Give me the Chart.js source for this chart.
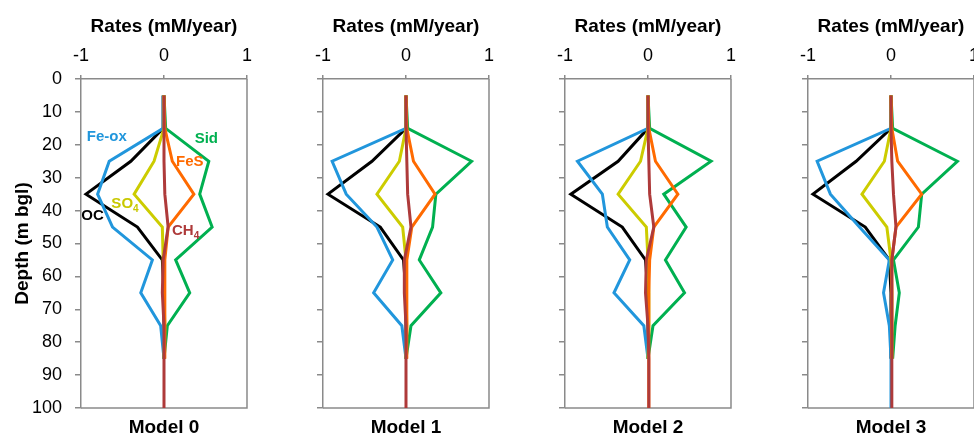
<!DOCTYPE html>
<html>
<head>
<meta charset="utf-8">
<script src="https://cdn.jsdelivr.net/npm/chart.js@4"></script>
<style>
  html, body { margin: 0; padding: 0; background: #fff; overflow: hidden; width: 974px; height: 436px; }
  .panel { position: absolute; top: 0; }
</style>
</head>
<body>
<div class="panel" style="left:0px"><canvas id="c0" width="260" height="444"></canvas></div>
<div class="panel" style="left:283px"><canvas id="c1" width="219" height="444"></canvas></div>
<div class="panel" style="left:525px"><canvas id="c2" width="219" height="444"></canvas></div>
<div class="panel" style="left:768px"><canvas id="c3" width="219" height="444"></canvas></div>
<script>
// depths (m bgl) where the rates are given
const depth = [5, 15, 25, 35, 45, 55, 65, 75, 85, 100];
const modelNames = ["Model 0", "Model 1", "Model 2", "Model 3"];
const rateTicks = [-1, 0, 1];
const depthTicks = [0, 10, 20, 30, 40, 50, 60, 70, 80, 90, 100];

// rates (mM/year), one row per model
const feOx = [
    [0, -0.01, -0.66, -0.80, -0.62, -0.14, -0.28, -0.04, 0, null],
    [0, 0, -0.89, -0.72, -0.35, -0.16, -0.39, -0.05, 0, null],
    [0, 0, -0.85, -0.55, -0.49, -0.22, -0.41, -0.05, 0, null],
    [0, 0, -0.89, -0.73, -0.38, -0.02, -0.09, -0.02, 0, 0]
];
const sid = [
    [0, 0.02, 0.54, 0.43, 0.58, 0.14, 0.31, 0.04, 0, null],
    [0, 0.02, 0.79, 0.36, 0.32, 0.16, 0.42, 0.06, 0, null],
    [0, 0.02, 0.76, 0.19, 0.46, 0.21, 0.44, 0.06, 0, null],
    [0, 0.02, 0.80, 0.37, 0.33, 0.03, 0.10, 0.05, 0.02, null]
];
const feS = [
    [0, 0.01, 0.10, 0.36, 0.05, 0.01, 0.01, 0.01, 0.01, null],
    [0, 0.01, 0.09, 0.35, 0.07, 0.01, 0.01, 0.01, 0.01, null],
    [0, 0.01, 0.09, 0.36, 0.07, 0.02, 0.01, 0.01, 0.01, 0.01],
    [0, 0.01, 0.08, 0.37, 0.06, 0.01, 0.01, 0.01, 0.01, null]
];
const oc = [
    [0, -0.01, -0.40, -0.94, -0.32, -0.02, 0, 0, 0, null],
    [0, 0, -0.41, -0.94, -0.31, -0.03, 0, 0, 0, null],
    [0, 0, -0.36, -0.93, -0.31, -0.03, 0, 0, 0, null],
    [0, 0, -0.42, -0.94, -0.31, -0.02, 0, 0, 0, null]
];
const so4 = [
    [0, 0, -0.12, -0.36, -0.02, -0.01, 0, 0.01, 0, null],
    [0, 0, -0.08, -0.35, -0.04, 0, 0, 0.01, 0, null],
    [0, 0, -0.09, -0.36, -0.02, 0, 0.01, 0.01, 0, null],
    [0, 0, -0.08, -0.35, -0.05, 0, 0.01, 0.01, 0.01, null]
];
const ch4 = [
    [0, 0, 0, 0.01, 0.05, -0.01, -0.02, 0, 0, 0],
    [0, 0, 0.01, 0.02, 0.06, -0.02, -0.02, 0, 0, 0],
    [0, 0, 0.01, 0.02, 0.07, -0.02, -0.03, 0, 0.01, 0.01],
    [0, 0, 0.01, 0.03, 0.06, 0.01, 0.01, 0.01, 0.01, 0.01]
];

// series labels written inside Model 0 (position in rate / depth units)
const labelText = ["Fe-ox", "Sid", "FeS", "SO", "OC", "CH"];
const labelSub = ["", "", "", "4", "", "4"];
const labelRate = [-0.69, 0.51, 0.31, -0.47, -0.86, 0.26];
const labelDepth = [17.6, 18.2, 25.2, 38, 41.6, 46.2];

const FONT = "'Liberation Sans', Arial, sans-serif";
const AXIS_GREY = "#8a8a8a";

const series = [
    { name: "CH4", values: ch4, color: "#ae3a3a" },
    { name: "FeS", values: feS, color: "#ff6a00" },
    { name: "SO4", values: so4, color: "#cccc00" },
    { name: "Sid", values: sid, color: "#00b050" },
    { name: "Fe-ox", values: feOx, color: "#2196dc" },
    { name: "OC", values: oc, color: "#000000" }
];
const labelColors = ["#2196dc", "#00b050", "#ff6a00", "#c8c800", "#000000", "#ae3a3a"];

// draws the right and bottom edges of the plot frame
const framePlugin = {
    id: "frame",
    beforeDatasetsDraw(chart) {
        const a = chart.chartArea;
        const ctx = chart.ctx;
        ctx.save();
        ctx.strokeStyle = AXIS_GREY;
        ctx.lineWidth = 1.5;
        ctx.beginPath();
        ctx.moveTo(a.left, a.bottom);
        ctx.lineTo(a.right, a.bottom);
        ctx.lineTo(a.right, a.top);
        ctx.stroke();
        ctx.restore();
    }
};

const seriesLabelPlugin = {
    id: "seriesLabels",
    afterDatasetsDraw(chart, args, opts) {
        if (!opts.show) return;
        const ctx = chart.ctx;
        const sx = chart.scales.x, sy = chart.scales.y;
        ctx.save();
        ctx.textAlign = "left";
        ctx.textBaseline = "middle";
        labelText.forEach((txt, i) => {
            const px = sx.getPixelForValue(labelRate[i]);
            const py = sy.getPixelForValue(labelDepth[i]);
            ctx.font = "bold 15px " + FONT;
            const w = ctx.measureText(txt).width;
            ctx.font = "bold 10px " + FONT;
            const sw = labelSub[i] ? ctx.measureText(labelSub[i]).width : 0;
            const x0 = px - (w + sw) / 2;
            ctx.fillStyle = labelColors[i];
            ctx.font = "bold 15px " + FONT;
            ctx.fillText(txt, x0, py);
            if (labelSub[i]) {
                ctx.font = "bold 10px " + FONT;
                ctx.fillText(labelSub[i], x0 + w, py + 5);
            }
        });
        ctx.restore();
    }
};

function makePanel(m) {
    const first = m === 0;
    const datasets = series.map((s, k) => ({
        label: s.name,
        data: depth
            .map((d, i) => (s.values[m][i] === null ? null : { x: s.values[m][i], y: d }))
            .filter((p) => p !== null),
        showLine: true,
        borderColor: s.color,
        backgroundColor: s.color,
        borderWidth: 3,
        pointRadius: 0,
        tension: 0,
        order: k
    }));

    new Chart(document.getElementById("c" + m), {
        type: "scatter",
        data: { datasets: datasets },
        plugins: [framePlugin, seriesLabelPlugin],
        options: {
            responsive: false,
            animation: false,
            events: [],
            layout: { padding: { left: 0, right: 12, top: 0, bottom: 0 } },
            plugins: {
                legend: { display: false },
                tooltip: { enabled: false },
                seriesLabels: { show: first }
            },
            scales: {
                x: {
                    type: "linear",
                    position: "top",
                    min: -1,
                    max: 1,
                    afterBuildTicks: (s) => { s.ticks = rateTicks.map((v) => ({ value: v })); },
                    ticks: { color: "#000", font: { family: FONT, size: 18 }, padding: 8, maxRotation: 0 },
                    grid: { drawOnChartArea: false, tickLength: 4, color: AXIS_GREY, lineWidth: 1.5 },
                    border: { color: AXIS_GREY, width: 1.5 },
                    title: {
                        display: true,
                        text: "Rates (mM/year)",
                        color: "#000",
                        font: { family: FONT, size: 19, weight: "bold" },
                        padding: { top: 15, bottom: 0 }
                    },
                    afterFit: (s) => { s.height = 79; }
                },
                // bottom axis only carries the model name
                model: {
                    type: "linear",
                    position: "bottom",
                    min: -1,
                    max: 1,
                    ticks: { display: false },
                    grid: { display: false },
                    border: { display: false },
                    title: {
                        display: true,
                        text: modelNames[m],
                        color: "#000",
                        font: { family: FONT, size: 19, weight: "bold" },
                        padding: { top: 0, bottom: 5 }
                    },
                    afterFit: (s) => { s.height = 36; }
                },
                y: {
                    type: "linear",
                    position: "left",
                    reverse: true,
                    min: 0,
                    max: 100,
                    afterBuildTicks: (s) => { s.ticks = depthTicks.map((v) => ({ value: v })); },
                    ticks: {
                        color: "#000",
                        font: { family: FONT, size: 18 },
                        padding: 13,
                        autoSkip: false,
                        callback: (v) => (first ? String(v) : "")
                    },
                    grid: { drawOnChartArea: false, tickLength: 6, color: AXIS_GREY, lineWidth: 1.5 },
                    border: { color: AXIS_GREY, width: 1.5 },
                    title: {
                        display: first,
                        text: "Depth (m bgl)",
                        color: "#000",
                        font: { family: FONT, size: 19, weight: "bold" },
                        padding: { top: 11, bottom: 0 }
                    },
                    afterFit: (s) => { s.width = first ? 81 : 40; }
                }
            }
        }
    });
}

modelNames.forEach((n, m) => makePanel(m));
</script>
</body>
</html>
